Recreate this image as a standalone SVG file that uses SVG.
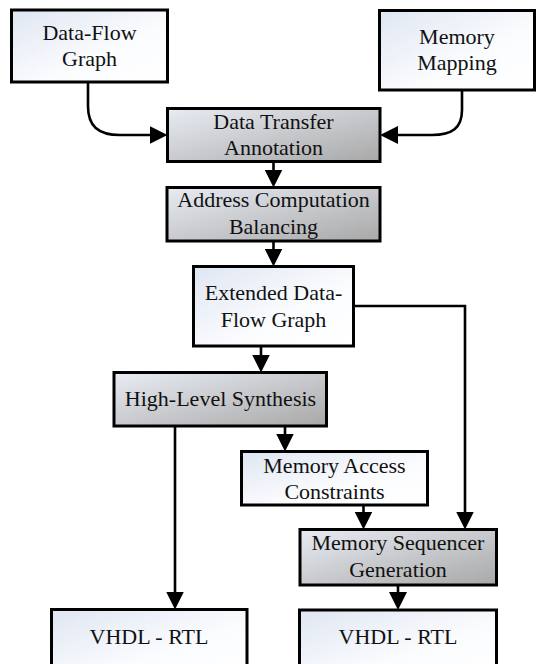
<svg xmlns="http://www.w3.org/2000/svg" width="536" height="664" viewBox="0 0 536 664">
<defs>
<linearGradient id="gWhite" x1="0" y1="0" x2="1" y2="1">
<stop offset="0" stop-color="#dfe6f2"/>
<stop offset="0.6" stop-color="#fbfcfe"/>
<stop offset="1" stop-color="#ffffff"/>
</linearGradient>
<linearGradient id="gGray" x1="0" y1="0" x2="1" y2="1">
<stop offset="0" stop-color="#e8ecf3"/>
<stop offset="1" stop-color="#a8a8a8"/>
</linearGradient>
<marker id="arr" markerUnits="userSpaceOnUse" markerWidth="18" markerHeight="18" refX="8" refY="9" orient="auto">
<path d="M0,0 L18,9 L0,18 z" fill="#000"/>
</marker>
<style>
.w{fill:url(#gWhite);stroke:#000;stroke-width:3}
.g{fill:url(#gGray);stroke:#000;stroke-width:3}
.t{font-size:22px;fill:#111;text-anchor:middle}
.c{fill:none;stroke:#000;stroke-width:2.6;marker-end:url(#arr)}
</style>
</defs>
<g id="connectors">
<path class="c" d="M88,82 V106 C88,126 98,135 120,135 H157.5"/>
<path class="c" d="M462,90 V110 C462,128 452,135 432,135 H390"/>
<path class="c" d="M273.5,161.5 V177.5"/>
<path class="c" d="M273.5,241 V256.5"/>
<path class="c" d="M261,346 V362.5"/>
<path class="c" d="M353.5,306 H465 V519.5"/>
<path class="c" d="M175,426 V599.5"/>
<path class="c" d="M285,426 V441.5"/>
<path class="c" d="M363.5,505 V519.5"/>
<path class="c" d="M398,585 V600"/>
</g>
<g font-family="Liberation Serif, serif">
<g id="dfg">
<rect class="w" x="11.5" y="10" width="156" height="72"/>
<text class="t" x="89.5" y="40">Data-Flow</text>
<text class="t" x="89.5" y="66">Graph</text>
</g>
<g id="mm">
<rect class="w" x="379.5" y="10.5" width="155" height="79.5"/>
<text class="t" x="457" y="44">Memory</text>
<text class="t" x="457" y="70">Mapping</text>
</g>
<g id="dta">
<rect class="g" x="167.5" y="108.5" width="212.5" height="53"/>
<text class="t" x="273.5" y="128.5">Data Transfer</text>
<text class="t" x="273.5" y="155">Annotation</text>
</g>
<g id="acb">
<rect class="g" x="167" y="187.5" width="213" height="53.5"/>
<text class="t" x="273.5" y="207">Address Computation</text>
<text class="t" x="273.5" y="233.5">Balancing</text>
</g>
<g id="edfg">
<rect class="w" x="193.5" y="266.5" width="160" height="79.5"/>
<text class="t" x="273.5" y="300">Extended Data-</text>
<text class="t" x="273.5" y="326.5">Flow Graph</text>
</g>
<g id="hls">
<rect class="g" x="114" y="372.5" width="212.5" height="53.5"/>
<text class="t" x="220.5" y="406">High-Level Synthesis</text>
</g>
<g id="mac">
<rect class="w" x="241.5" y="451.5" width="186" height="53.5"/>
<text class="t" x="334.5" y="472.5">Memory Access</text>
<text class="t" x="334.5" y="498.5">Constraints</text>
</g>
<g id="msg">
<rect class="g" x="300" y="529.5" width="196.5" height="55.5"/>
<text class="t" x="398" y="550">Memory Sequencer</text>
<text class="t" x="398" y="576.5">Generation</text>
</g>
<g id="vhdl1">
<rect class="w" x="51.5" y="609.5" width="195.5" height="70"/>
<text class="t" x="149" y="643.5">VHDL - RTL</text>
</g>
<g id="vhdl2">
<rect class="w" x="299.5" y="610" width="197" height="70"/>
<text class="t" x="398" y="643.5">VHDL - RTL</text>
</g>
</g>
</svg>
